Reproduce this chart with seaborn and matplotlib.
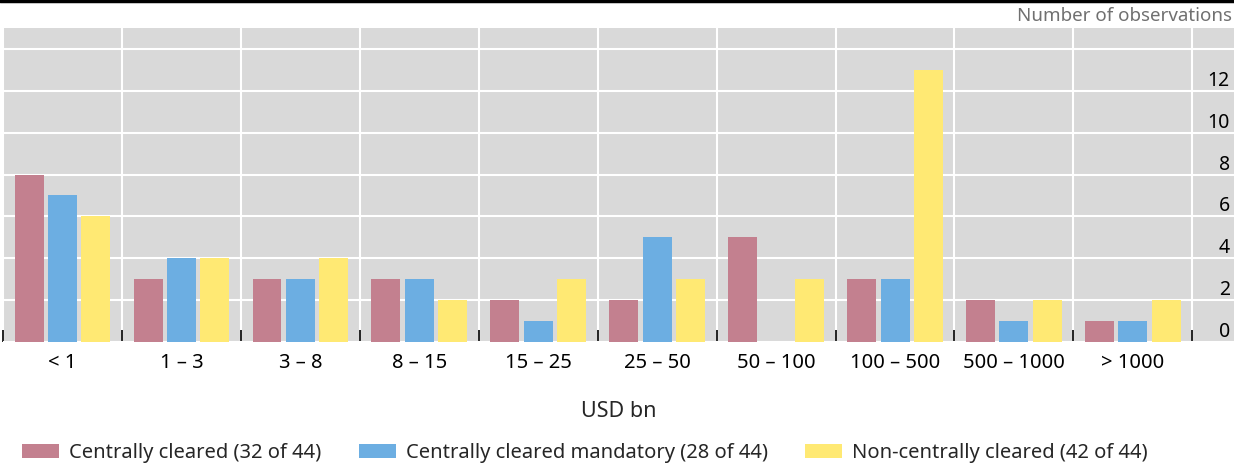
import matplotlib
matplotlib.use('Agg')
import matplotlib.pyplot as plt
import numpy as np
import pandas as pd
import seaborn as sns

# values
buckets = ['< 1', '1 – 3', '3 – 8', '8 – 15', '15 – 25', '25 – 50',
           '50 – 100', '100 – 500', '500 – 1000', '> 1000']
series = ['Centrally cleared (32 of 44)',
          'Centrally cleared mandatory (28 of 44)',
          'Non-centrally cleared (42 of 44)']
central = [8, 3, 3, 3, 2, 2, 5, 3, 2, 1]
mandatory = [7, 4, 3, 3, 1, 5, 0, 3, 1, 1]
non_central = [6, 4, 4, 2, 3, 3, 3, 13, 2, 2]
colors = ['#C3808F', '#6CAEE2', '#FFE973']

df = pd.DataFrame({
    'bucket': buckets * 3,
    'series': [series[0]] * 10 + [series[1]] * 10 + [series[2]] * 10,
    'count': central + mandatory + non_central,
})

sns.set_theme(style='white')
plt.rcParams['font.family'] = ['Noto Sans', 'DejaVu Sans']
plt.rcParams['font.size'] = 14

fig = plt.figure(figsize=(12.34, 4.67), dpi=100)
ax = fig.add_axes([0.0024, 0.2677, 0.9976, 0.6723])
ax.set_facecolor('#D9D9D9')

sns.barplot(data=df, x='bucket', y='count', hue='series', order=buckets,
            hue_order=series, palette=colors, width=0.84, gap=0.13,
            saturation=1, linewidth=0, ax=ax, legend=True)

ax.set_xlim(-0.5, 9.85)
ax.set_ylim(0, 15)
for s in ax.spines.values():
    s.set_visible(False)

# grid
ax.set_axisbelow(True)
ax.set_yticks(np.arange(0, 15, 2))
ax.set_yticklabels([str(v) if v <= 12 else '' for v in range(0, 15, 2)])
ax.yaxis.tick_right()
ax.tick_params(axis='y', length=0, pad=-3, labelsize=14, labelcolor='black')
for lab in ax.get_yticklabels():
    lab.set_horizontalalignment('right')
    lab.set_verticalalignment('bottom')
ax.grid(axis='y', color='white', lw=1.5)

ax.set_xticks(np.arange(-0.5, 10, 1), minor=True)
ax.tick_params(axis='x', which='major', length=0, pad=8, labelsize=14.5, labelcolor='black')
ax.tick_params(axis='x', which='minor', direction='in', length=8.5, width=1.3,
               color='#111111', bottom=True)
ax.grid(axis='x', which='minor', color='white', lw=1.5)
ax.grid(axis='x', which='major', visible=False)

ax.set_ylabel('')
ax.set_xlabel('USD bn', fontsize=15.5, labelpad=20)

fig.text(0.9985, 1 - 16 / 467, 'Number of observations', ha='right', va='center',
         fontsize=13.5, color='#707070')

# top rule
fig.add_artist(plt.Line2D([0, 1], [0.9975, 0.9975], color='black', lw=2.5,
                          transform=fig.transFigure))

handles, labels = ax.get_legend_handles_labels()
ax.get_legend().remove()
fig.legend(handles, labels, loc='center', bbox_to_anchor=(0.474, 1 - 453 / 467),
           ncol=3, frameon=False, fontsize=14.5, handlelength=1.85, handleheight=0.7,
           handletextpad=0.5, columnspacing=1.85, borderaxespad=0)

fig.savefig('out.png', dpi=100)
